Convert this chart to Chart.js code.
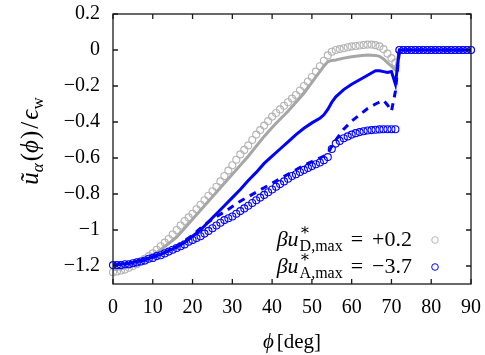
<!DOCTYPE html>
<html>
<head>
<meta charset="utf-8">
<script src="https://cdn.jsdelivr.net/npm/chart.js@4.4.1/dist/chart.umd.min.js"></script>
<style>
  html, body { margin: 0; padding: 0; background: #fff; }
</style>
</head>
<body>
<canvas id="chart" width="485" height="355"></canvas>
<script>
// angle grid of the simulation points (deg)
const phi = [0,1,2,3,4,5,6,7,8,9,10,11,12,13,14,15,16,17,18,19,20,21,22,23,24,25,26,27,28,29,
  30,31,32,33,34,35,36,37,38,39,40,41,42,43,44,45,46,47,48,49,50,51,52,53,54,55,56,57,58,59,
  60,61,62,63,64,65,66,67,68,69,70,71,72,73,74,75,76,77,78,79,80,81,82,83,84,85,86,87,88,89,90];

// open circles, beta u*_D,max = +0.2
const circlesD = [-1.235,-1.23,-1.225,-1.22,-1.21,-1.20,-1.19,-1.175,-1.16,-1.145,
  -1.13,-1.11,-1.09,-1.07,-1.05,-1.025,-1.0,-0.975,-0.95,-0.93,
  -0.91,-0.885,-0.86,-0.835,-0.81,-0.785,-0.76,-0.73,-0.70,-0.67,
  -0.64,-0.61,-0.58,-0.555,-0.53,-0.50,-0.47,-0.445,-0.42,-0.395,
  -0.37,-0.35,-0.33,-0.31,-0.29,-0.27,-0.25,-0.225,-0.20,-0.175,
  -0.15,-0.12,-0.09,-0.06,-0.03,-0.01,0.0,0.005,0.01,0.015,
  0.02,0.022,0.025,0.028,0.03,0.03,0.027,0.02,0.005,-0.02,
  -0.045,-0.07,
  0,0,0,0,0,0,0,0,0,0,0,0,0,0,0,0,0,0,0];

// open circles, beta u*_A,max = -3.7
const circlesA = [-1.195,-1.195,-1.195,-1.19,-1.19,-1.185,-1.18,-1.175,-1.17,-1.16,
  -1.155,-1.145,-1.14,-1.13,-1.12,-1.11,-1.10,-1.09,-1.08,-1.065,
  -1.055,-1.045,-1.035,-1.02,-1.005,-0.99,-0.975,-0.96,-0.945,-0.935,
  -0.925,-0.91,-0.895,-0.88,-0.865,-0.85,-0.835,-0.82,-0.805,-0.79,
  -0.775,-0.76,-0.745,-0.73,-0.715,-0.70,-0.69,-0.678,-0.666,-0.655,
  -0.645,-0.635,-0.625,-0.612,-0.595,-0.55,-0.52,-0.505,-0.49,-0.48,
  -0.47,-0.462,-0.456,-0.451,-0.447,-0.445,-0.443,-0.441,-0.44,-0.44,
  -0.44,-0.44,
  0,0,0,0,0,0,0,0,0,0,0,0,0,0,0,0,0,0,0];

// thick curves
const linePhi = [0,2,4,6,8,10,12,14,16,18,20,22,24,26,28,30,32,34,36,38,40,42,44,46,48,50,
  52,53,54,55,56,58,60,62,64,66,67,68,69,70,71,72,90];
const lineGray = [-1.22,-1.215,-1.205,-1.19,-1.165,-1.14,-1.11,-1.075,-1.04,-0.99,-0.94,-0.89,-0.84,
  -0.79,-0.74,-0.69,-0.64,-0.59,-0.535,-0.48,-0.43,-0.385,-0.34,-0.29,-0.24,-0.18,
  -0.12,-0.09,-0.065,-0.058,-0.055,-0.045,-0.037,-0.032,-0.028,-0.03,-0.035,-0.05,-0.07,-0.09,-0.11,0,0];
const lineBlue = [-1.195,-1.19,-1.185,-1.175,-1.165,-1.15,-1.135,-1.115,-1.095,-1.07,-1.035,-1.0,-0.955,
  -0.91,-0.865,-0.82,-0.775,-0.725,-0.68,-0.63,-0.59,-0.55,-0.51,-0.47,-0.435,-0.405,
  -0.38,-0.36,-0.33,-0.29,-0.26,-0.22,-0.19,-0.165,-0.14,-0.115,-0.115,-0.12,-0.125,-0.12,-0.19,0,0];
const dashBlue = [-1.195,-1.19,-1.185,-1.175,-1.165,-1.15,-1.135,-1.115,-1.09,-1.06,-1.03,-0.99,-0.955,
  -0.925,-0.90,-0.87,-0.84,-0.815,-0.79,-0.765,-0.74,-0.715,-0.69,-0.665,-0.64,-0.62,
  -0.60,-0.59,-0.575,-0.535,-0.50,-0.44,-0.395,-0.36,-0.325,-0.30,-0.29,-0.28,-0.305,-0.34,-0.23,0,0];

const xTicks = [0,10,20,30,40,50,60,70,80,90];
const yTicks = [0.2,0,-0.2,-0.4,-0.6,-0.8,-1,-1.2];

const SERIF = '"Liberation Serif", "DejaVu Serif", serif';
const BLUE = '#0000ff';
const GRAY = '#a6a6a6';
const LIGHT = '#b4b4b4';

function pts(xs, ys) { return xs.map((p, i) => ({x: p, y: ys[i]})); }
function fmt(v) {
  const s = String(Math.round(v * 10) / 10);
  return s.charAt(0) === '-' ? '\u2212' + s.slice(1) : s;
}

// draws a row of text pieces: [text, font, dy, extra advance]
function pieces(ctx, list, x, y) {
  list.forEach(p => {
    ctx.font = p[1];
    ctx.fillText(p[0], x, y + (p[2] || 0));
    x += ctx.measureText(p[0]).width + (p[3] || 0);
  });
}
function piecesWidth(ctx, list) {
  let w = 0;
  list.forEach(p => { ctx.font = p[1]; w += ctx.measureText(p[0]).width + (p[3] || 0); });
  return w;
}

function legendRow(ctx, right, base, sub, val, color, cx) {
  const big = '22px ' + SERIF, bigI = 'italic 22px ' + SERIF, small = '16px ' + SERIF;
  ctx.font = bigI;
  const w1 = ctx.measureText('\u03b2u').width + 1;
  ctx.font = small;
  const w2 = Math.max(ctx.measureText('\u2217').width, ctx.measureText(sub).width) + 8;
  ctx.font = big;
  const wEq = ctx.measureText('=').width, wVal = ctx.measureText(val).width;
  const w3 = wEq + 9 + wVal;
  let x = right - (w1 + w2 + w3);
  ctx.fillStyle = '#000';
  ctx.textBaseline = 'alphabetic';
  ctx.textAlign = 'left';
  ctx.font = bigI; ctx.fillText('\u03b2u', x, base); x += w1;
  ctx.font = small; ctx.fillText('\u2217', x, base - 11); ctx.fillText(sub, x, base + 5); x += w2;
  ctx.font = big; ctx.fillText('=', x, base); x += wEq + 9;
  ctx.fillText(val, x, base);
  ctx.beginPath();
  ctx.arc(cx, base - 6, 3.3, 0, Math.PI * 2);
  ctx.strokeStyle = color; ctx.lineWidth = 1;
  ctx.stroke();
}

const decor = {
  id: 'decor',
  afterDraw(chart) {
    const {ctx, chartArea: a, scales: {x, y}} = chart;
    ctx.save();
    // frame with inward ticks on all sides
    ctx.strokeStyle = '#1a1a1a';
    ctx.lineWidth = 1.3;
    ctx.strokeRect(a.left, a.top, a.right - a.left, a.bottom - a.top);
    ctx.beginPath();
    x.ticks.forEach(t => {
      const px = x.getPixelForValue(t.value);
      ctx.moveTo(px, a.bottom); ctx.lineTo(px, a.bottom - 5);
      ctx.moveTo(px, a.top); ctx.lineTo(px, a.top + 5);
    });
    y.ticks.forEach(t => {
      const py = y.getPixelForValue(t.value);
      ctx.moveTo(a.left, py); ctx.lineTo(a.left + 5, py);
      ctx.moveTo(a.right, py); ctx.lineTo(a.right - 5, py);
    });
    ctx.stroke();

    // key
    legendRow(ctx, 412, 246, 'D,max', '+0.2', LIGHT, 435);
    legendRow(ctx, 412, 273, 'A,max', '\u22123.7', BLUE, 435);

    // x title
    const big = '21px ' + SERIF, bigI = 'italic 21px ' + SERIF;
    ctx.fillStyle = '#000';
    const xt = [['\u03d5', bigI, 0, 3], ['[deg]', big, 0]];
    const xw = piecesWidth(ctx, xt);
    pieces(ctx, xt, (a.left + a.right) / 2 - xw / 2, 348);

    // y title (rotated)
    const yBig = '25px ' + SERIF, yBigI = 'italic 25px ' + SERIF, ySmall = '17px ' + SERIF, ySmallI = 'italic 17px ' + SERIF;
    const yt = [['\u0169', yBigI, 0], ['\u03b1', ySmallI, 5, 2], ['(', yBig, 0], ['\u03d5', yBigI, 0, 1], [')', yBig, 0, 2],
      ['/', yBig, 0, 2], ['\u03f5', yBigI, 0], ['w', ySmall, 5]];
    const yw = piecesWidth(ctx, yt);
    ctx.translate(38, 141);
    ctx.rotate(-Math.PI / 2);
    pieces(ctx, yt, -yw / 2, 0);
    ctx.restore();
  }
};

const tickFont = {family: SERIF, size: 20};

new Chart(document.getElementById('chart'), {
  type: 'line',
  data: {
    datasets: [
      {data: pts(linePhi, lineBlue), borderColor: BLUE, borderWidth: 3, pointRadius: 0, order: 1},
      {data: pts(linePhi, dashBlue), borderColor: BLUE, borderWidth: 3, borderDash: [7, 6], pointRadius: 0, order: 2},
      {data: pts(linePhi, lineGray), borderColor: GRAY, borderWidth: 3, pointRadius: 0, order: 4},
      {data: pts(phi, circlesA), showLine: false, pointRadius: 3.5, pointBorderWidth: 1.1,
        pointBorderColor: BLUE, pointBackgroundColor: 'rgba(0,0,0,0)', order: 3},
      {data: pts(phi, circlesD), showLine: false, pointRadius: 3.5, pointBorderWidth: 1.1,
        pointBorderColor: LIGHT, pointBackgroundColor: 'rgba(0,0,0,0)', order: 5}
    ]
  },
  options: {
    responsive: false,
    devicePixelRatio: 1,
    animation: false,
    clip: false,
    layout: {padding: {top: 14, right: 14, left: 0, bottom: 0}},
    plugins: {legend: {display: false}, tooltip: {enabled: false}},
    elements: {line: {tension: 0}},
    scales: {
      x: {
        type: 'linear', min: 0, max: 90,
        grid: {display: false, drawTicks: false},
        border: {display: false},
        ticks: {font: tickFont, color: '#000', padding: 12, autoSkip: false, maxRotation: 0, callback: v => fmt(v)},
        afterBuildTicks: s => { s.ticks = xTicks.map(v => ({value: v})); },
        afterFit: s => { s.height = 71; s.paddingLeft = 0; s.paddingRight = 0; }
      },
      y: {
        type: 'linear', min: -1.3, max: 0.2,
        grid: {display: false, drawTicks: false},
        border: {display: false},
        ticks: {font: tickFont, color: '#000', padding: 13, autoSkip: false, callback: v => fmt(v)},
        afterBuildTicks: s => { s.ticks = yTicks.map(v => ({value: v})); },
        afterFit: s => { s.width = 113; s.paddingTop = 0; s.paddingBottom = 0; }
      }
    }
  },
  plugins: [decor]
});
</script>
</body>
</html>
